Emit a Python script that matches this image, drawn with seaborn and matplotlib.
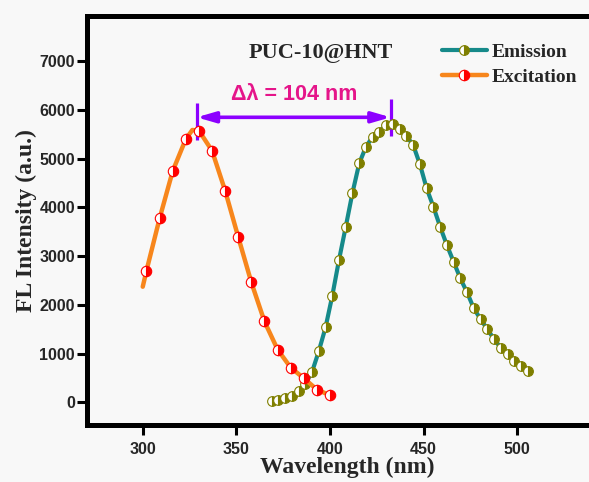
import matplotlib
matplotlib.use("Agg")
import matplotlib.pyplot as plt
import seaborn as sns
import pandas as pd

# ---- data ----
excitation_wl = [300, 302, 309, 316, 323, 326.5, 330, 337, 344, 351, 358, 365, 372, 379, 386, 393, 400]
excitation_int = [2370, 2700, 3772, 4743, 5400, 5585, 5571, 5160, 4339, 3388, 2458, 1657, 1082, 712, 493, 260, 144]
excitation_marker_idx = [1, 2, 3, 4, 6, 7, 8, 9, 10, 11, 12, 13, 14, 15, 16]

emission_wl = [368.8, 372.4, 376.0, 379.6, 383.2, 386.8, 390.4, 394.0, 397.6, 401.2,
               404.8, 408.4, 412.0, 415.6, 419.2, 422.8, 426.4, 430.0, 433.6, 437.2,
               440.8, 444.4, 448.0, 451.6, 455.2, 458.8, 462.4, 466.0, 469.6, 473.2,
               476.8, 480.4, 484.0, 487.6, 491.2, 494.8, 498.4, 502.0, 505.6]
emission_int = [27, 55, 88, 130, 226, 384, 622, 1047, 1534, 2183,
                2920, 3600, 4298, 4901, 5242, 5448, 5550, 5680, 5700, 5606,
                5462, 5277, 4881, 4388, 4010, 3600, 3224, 2881, 2540, 2252,
                1924, 1704, 1499, 1294, 1115, 1000, 840, 739, 637]

x_ticks = [300, 350, 400, 450, 500]
y_ticks = [0, 1000, 2000, 3000, 4000, 5000, 6000, 7000]
peak_ex = 328.8
peak_em = 432.4
shift_label = "\u0394\u03bb = 104 nm"
sample_label = "PUC-10@HNT"

sns.set_style("ticks")
plt.rcParams['font.family'] = ['Liberation Sans', 'DejaVu Sans']

bg = '#f8f8f8'
fig = plt.figure(figsize=(5.89, 4.82), dpi=100, facecolor=bg)
W, H = 589, 482
ax = fig.add_axes([87.5 / W, (H - 425) / H, (607 - 87.5) / W, (425 - 15.5) / H])
ax.set_facecolor(bg)

df_em = pd.DataFrame({"wl": emission_wl, "I": emission_int})
df_ex = pd.DataFrame({"wl": excitation_wl, "I": excitation_int})

sns.lineplot(data=df_em, x="wl", y="I", ax=ax, color='#168a8a', lw=3.0,
             marker='o', markersize=7.0, fillstyle='right',
             markerfacecolor='#7f7f00', markerfacecoloralt='white',
             markeredgecolor='#7f7f00', markeredgewidth=0.8,
             label='Emission', zorder=3)
sns.lineplot(data=df_ex, x="wl", y="I", ax=ax, color='#f7861c', lw=3.2,
             marker='o', markersize=7.5, fillstyle='right',
             markerfacecolor='#ff0000', markerfacecoloralt='white',
             markeredgecolor='#ff0000', markeredgewidth=0.8,
             markevery=excitation_marker_idx,
             label='Excitation', zorder=4)

ax.set_xlim(270.5, 547.9)
ax.set_ylim(-466, 7933)
ax.set_xticks(x_ticks)
ax.set_yticks(y_ticks)
ax.set_xticklabels([str(t) for t in x_ticks], fontsize=11.5, fontweight='bold', family=['Liberation Sans'])
ax.set_yticklabels([str(t) for t in y_ticks], fontsize=11.5, fontweight='bold', family=['Liberation Sans'])
ax.tick_params(axis='both', direction='out', length=7, width=2.2, color='black', pad=2)
ax.tick_params(axis='x', pad=5)

for s in ['left', 'bottom', 'top', 'right']:
    ax.spines[s].set_linewidth(3.6)
    ax.spines[s].set_color('black')

ax.set_xlabel("Wavelength (nm)", fontsize=17, fontweight='bold', family=['Liberation Serif'], labelpad=0)
ax.set_ylabel("FL Intensity (a.u.)", fontsize=17, fontweight='bold', family=['Liberation Serif'], labelpad=2)

ax.text(395.2, 7061, sample_label, ha='center', va='baseline', fontsize=16,
        fontweight='bold', family=['Liberation Serif'])
ax.text(381.0, 6190, shift_label, ha='center', va='baseline', fontsize=15.5,
        fontweight='bold', color='#e5158a', family=['Liberation Sans', 'DejaVu Sans'])

purple = '#8c00ff'
ax.annotate('', xy=(peak_ex, 5845), xytext=(peak_em, 5845),
            arrowprops=dict(arrowstyle='<|-|>,head_length=1.1,head_width=0.32',
                            mutation_scale=10, color=purple, lw=2.6,
                            shrinkA=0, shrinkB=0))
ax.plot([peak_ex, peak_ex], [5380, 6139], color=purple, lw=2.3, solid_capstyle='butt')
ax.plot([peak_em, peak_em], [5461, 6220], color=purple, lw=2.3, solid_capstyle='butt')

leg = ax.legend(loc='upper left', bbox_to_anchor=(441.7 / W, 1 - 43 / H),
                bbox_transform=fig.transFigure, frameon=False,
                prop={'family': 'Liberation Serif', 'weight': 'bold', 'size': 14},
                handlelength=2.31, handletextpad=0.26, labelspacing=0.4,
                borderpad=0, borderaxespad=0, numpoints=1)

fig.savefig("out.png", dpi=100, facecolor=bg)
